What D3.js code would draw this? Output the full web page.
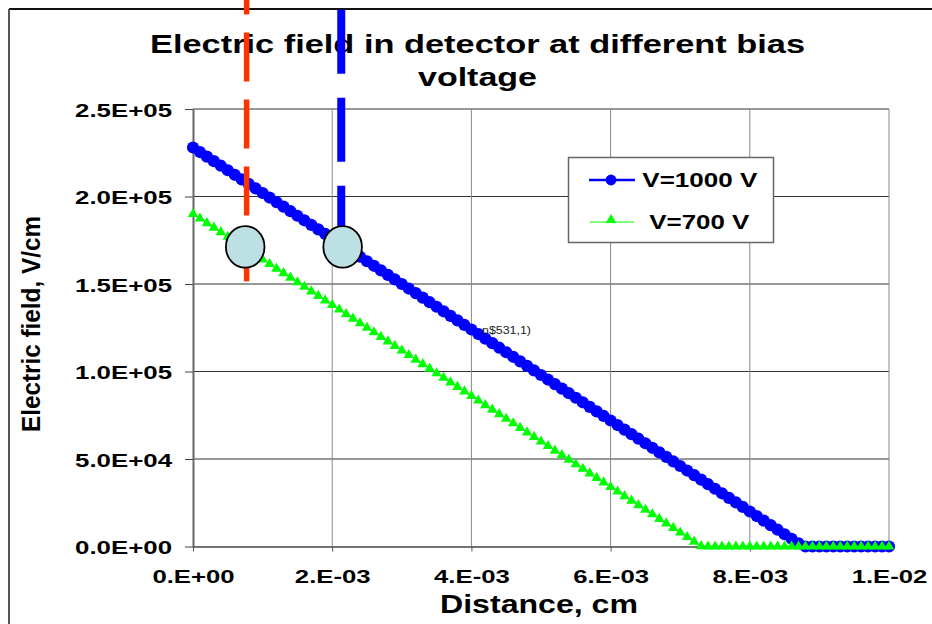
<!DOCTYPE html>
<html>
<head>
<meta charset="utf-8">
<script src="https://cdn.jsdelivr.net/npm/d3@7"></script>
<style>
body{margin:0;background:#fff;}
svg{display:block;font-family:"Liberation Sans",Arial,sans-serif;}
</style>
</head>
<body>
<script>
//distance into the detector, cm
var distance = [
    0.0000,0.0001,0.0002,0.0003,0.0004,0.0005,0.0006,0.0007,0.0008,0.0009,
    0.0010,0.0011,0.0012,0.0013,0.0014,0.0015,0.0016,0.0017,0.0018,0.0019,
    0.0020,0.0021,0.0022,0.0023,0.0024,0.0025,0.0026,0.0027,0.0028,0.0029,
    0.0030,0.0031,0.0032,0.0033,0.0034,0.0035,0.0036,0.0037,0.0038,0.0039,
    0.0040,0.0041,0.0042,0.0043,0.0044,0.0045,0.0046,0.0047,0.0048,0.0049,
    0.0050,0.0051,0.0052,0.0053,0.0054,0.0055,0.0056,0.0057,0.0058,0.0059,
    0.0060,0.0061,0.0062,0.0063,0.0064,0.0065,0.0066,0.0067,0.0068,0.0069,
    0.0070,0.0071,0.0072,0.0073,0.0074,0.0075,0.0076,0.0077,0.0078,0.0079,
    0.0080,0.0081,0.0082,0.0083,0.0084,0.0085,0.0086,0.0087,0.0088,0.0089,
    0.0090,0.0091,0.0092,0.0093,0.0094,0.0095,0.0096,0.0097,0.0098,0.0099,
    0.0100];

//electric field, V/cm, at 1000 V bias
var fieldV1000 = [
    228000,225400,222800,220200,217600,215000,212400,209800,207200,204600,
    202000,199400,196800,194200,191600,189000,186400,183800,181200,178600,
    176000,173400,170800,168200,165600,163000,160400,157800,155200,152600,
    150000,147400,144800,142200,139600,137000,134400,131800,129200,126600,
    124000,121400,118800,116200,113600,111000,108400,105800,103200,100600,
    98000,95400,92800,90200,87600,85000,82400,79800,77200,74600,
    72000,69400,66800,64200,61600,59000,56400,53800,51200,48600,
    46000,43400,40800,38200,35600,33000,30400,27800,25200,22600,
    20000,17400,14800,12200,9600,7000,4400,1800,0,0,
    0,0,0,0,0,0,0,0,0,0,
    0];

//electric field, V/cm, at 700 V bias
var fieldV700 = [
    190000,187400,184800,182200,179600,177000,174400,171800,169200,166600,
    164000,161400,158800,156200,153600,151000,148400,145800,143200,140600,
    138000,135400,132800,130200,127600,125000,122400,119800,117200,114600,
    112000,109400,106800,104200,101600,99000,96400,93800,91200,88600,
    86000,83400,80800,78200,75600,73000,70400,67800,65200,62600,
    60000,57400,54800,52200,49600,47000,44400,41800,39200,36600,
    34000,31400,28800,26200,23600,21000,18400,15800,13200,10600,
    8000,5400,2800,200,0,0,0,0,0,0,
    0,0,0,0,0,0,0,0,0,0,
    0,0,0,0,0,0,0,0,0,0,
    0];

var seriesNames = ["V=1000 V", "V=700 V"];

var yTicks = [0, 50000, 100000, 150000, 200000, 250000];
var yTickLabels = ["0.0E+00","5.0E+04","1.0E+05","1.5E+05","2.0E+05","2.5E+05"];
var xTicks = [0, 0.002, 0.004, 0.006, 0.008, 0.01];
var xTickLabels = ["0.E+00","2.E-03","4.E-03","6.E-03","8.E-03","1.E-02"];

//hand-drawn marks: dashed lines and the two circles
var dashX = [0.00077, 0.00213];
var dashTop = [332000, 306700];
var dashBottom = [151500, 175000];
var circleX = [0.00075, 0.00215];
var circleY = 171200;

window.onload = setChart;

function setChart(){

    var width = 932,
        height = 624;

    var svg = d3.select("body")
        .append("svg")
        .attr("width", width)
        .attr("height", height);

    var x = d3.scaleLinear().domain([0, 0.01]).range([193, 889]);
    var y = d3.scaleLinear().domain([0, 250000]).range([546.5, 109]);

    //stretch text like the original rendering
    function widen(sel, k){
        sel.each(function(){
            var w = this.getComputedTextLength();
            d3.select(this).attr("textLength", w * k).attr("lengthAdjust", "spacingAndGlyphs");
        });
    }

    //outer chart frame
    svg.append("line").attr("x1", 9).attr("x2", width).attr("y1", 9).attr("y2", 9)
        .attr("stroke", "#111").attr("stroke-width", 2);
    svg.append("line").attr("x1", 9).attr("x2", 9).attr("y1", 9).attr("y2", height)
        .attr("stroke", "#555").attr("stroke-width", 2);

    //gridlines
    svg.append("g").selectAll("line")
        .data(yTicks.slice(1))
        .join("line")
        .attr("x1", x(0)).attr("x2", x(0.01))
        .attr("y1", function(d){ return y(d); })
        .attr("y2", function(d){ return y(d); })
        .attr("stroke", "#333").attr("stroke-width", 1);

    svg.append("g").selectAll("line")
        .data(xTicks.slice(1))
        .join("line")
        .attr("x1", function(d){ return x(d); })
        .attr("x2", function(d){ return x(d); })
        .attr("y1", y(250000)).attr("y2", y(0))
        .attr("stroke", "#888").attr("stroke-width", 1);

    //y axis
    var yAxis = svg.append("g")
        .attr("transform", "translate(" + x(0) + ",0)")
        .call(d3.axisLeft(y)
            .tickValues(yTicks)
            .tickFormat(function(d, i){ return yTickLabels[i]; })
            .tickSize(8)
            .tickSizeOuter(0)
            .tickPadding(13));
    yAxis.select(".domain").attr("stroke", "#666").attr("stroke-width", 2);
    yAxis.selectAll(".tick line").attr("stroke", "#444");
    yAxis.selectAll("text")
        .attr("dy", "0.42em")
        .attr("fill", "#000")
        .style("font-size", "17.7px")
        .style("font-weight", "bold")
        .style("font-family", "'Liberation Sans', Arial, sans-serif")
        .call(widen, 1.46);

    //x axis
    var xAxis = svg.append("g")
        .attr("transform", "translate(0," + y(0) + ")")
        .call(d3.axisBottom(x)
            .tickValues(xTicks)
            .tickFormat(function(d, i){ return xTickLabels[i]; })
            .tickSize(5)
            .tickSizeOuter(0));
    xAxis.select(".domain").attr("stroke", "#444").attr("stroke-width", 1.3);
    xAxis.selectAll(".tick line").attr("stroke", "#555");
    xAxis.selectAll("text")
        .attr("y", 23.4)
        .attr("fill", "#000")
        .style("font-size", "18.5px")
        .style("font-weight", "bold")
        .style("font-family", "'Liberation Sans', Arial, sans-serif")
        .call(widen, 1.39);

    //series
    var line = d3.line()
        .x(function(d, i){ return x(distance[i]); })
        .y(function(d){ return y(d); });

    svg.append("path")
        .datum(fieldV1000)
        .attr("d", line)
        .attr("fill", "none")
        .attr("stroke", "#0000ff")
        .attr("stroke-width", 3);

    svg.append("g").selectAll("circle")
        .data(fieldV1000)
        .join("circle")
        .attr("cx", function(d, i){ return x(distance[i]); })
        .attr("cy", function(d){ return y(d); })
        .attr("r", 6.1)
        .attr("fill", "#0000ff");

    var tri = d3.symbol().type(d3.symbolTriangle).size(48);

    svg.append("path")
        .datum(fieldV700)
        .attr("d", line)
        .attr("fill", "none")
        .attr("stroke", "#00ff00")
        .attr("stroke-width", 1);

    svg.append("g").selectAll("path")
        .data(fieldV700)
        .join("path")
        .attr("d", tri)
        .attr("transform", function(d, i){
            return "translate(" + x(distance[i]) + "," + y(d) + ")";
        })
        .attr("fill", "#00ff00");

    //legend
    var legend = svg.append("g");
    legend.append("rect")
        .attr("x", 568.5).attr("y", 157.5)
        .attr("width", 205).attr("height", 85)
        .attr("fill", "#fff").attr("stroke", "#666").attr("stroke-width", 1.5);

    legend.append("line").attr("x1", 589).attr("x2", 635).attr("y1", 180).attr("y2", 180)
        .attr("stroke", "#0000ff").attr("stroke-width", 2.5);
    legend.append("circle").attr("cx", 611).attr("cy", 180).attr("r", 5.4).attr("fill", "#0000ff");
    legend.append("line").attr("x1", 590).attr("x2", 634).attr("y1", 222).attr("y2", 222)
        .attr("stroke", "#00ff00").attr("stroke-width", 1);
    legend.append("path").attr("d", tri).attr("transform", "translate(611,220)").attr("fill", "#00ff00");

    legend.append("text").attr("x", 642.3).attr("y", 187.3)
        .style("font-size", "19.5px").style("font-weight", "bold")
        .attr("textLength", 115).attr("lengthAdjust", "spacingAndGlyphs")
        .text(seriesNames[0]);
    legend.append("text").attr("x", 649.3).attr("y", 228.7)
        .style("font-size", "19.5px").style("font-weight", "bold")
        .attr("textLength", 100).attr("lengthAdjust", "spacingAndGlyphs")
        .text(seriesNames[1]);

    //titles
    svg.append("text").attr("x", 477.5).attr("y", 53)
        .attr("text-anchor", "middle")
        .style("font-size", "26.5px").style("font-weight", "bold")
        .attr("textLength", 655).attr("lengthAdjust", "spacingAndGlyphs")
        .text("Electric field in detector at different bias");
    svg.append("text").attr("x", 477.5).attr("y", 85.7)
        .attr("text-anchor", "middle")
        .style("font-size", "26.5px").style("font-weight", "bold")
        .attr("textLength", 119).attr("lengthAdjust", "spacingAndGlyphs")
        .text("voltage");

    svg.append("text").attr("x", 539).attr("y", 613.3)
        .attr("text-anchor", "middle")
        .style("font-size", "25.5px").style("font-weight", "bold")
        .attr("textLength", 198).attr("lengthAdjust", "spacingAndGlyphs")
        .text("Distance, cm");

    svg.append("text")
        .attr("transform", "translate(40,324) rotate(-90)")
        .attr("text-anchor", "middle")
        .style("font-size", "25.5px").style("font-weight", "bold")
        .attr("textLength", 216).attr("lengthAdjust", "spacingAndGlyphs")
        .text("Electric field, V/cm");

    //stray label left over in the original
    svg.append("text").attr("x", 482).attr("y", 334)
        .style("font-size", "10px").attr("fill", "#222")
        .attr("textLength", 49).attr("lengthAdjust", "spacingAndGlyphs")
        .text("n$531,1)");

    //dashed markers
    var dashColor = ["#ff3300", "#0000ff"];
    var dashWidth = [5.5, 8];
    var dashArray = ["49,18", "64,24"];
    svg.append("g").selectAll("line")
        .data(dashX)
        .join("line")
        .attr("x1", function(d){ return x(d); })
        .attr("x2", function(d){ return x(d); })
        .attr("y1", function(d, i){ return y(dashTop[i]); })
        .attr("y2", function(d, i){ return y(dashBottom[i]); })
        .attr("stroke", function(d, i){ return dashColor[i]; })
        .attr("stroke-width", function(d, i){ return dashWidth[i]; })
        .attr("stroke-dasharray", function(d, i){ return dashArray[i]; });

    svg.append("g").selectAll("ellipse")
        .data(circleX)
        .join("ellipse")
        .attr("cx", function(d){ return x(d); })
        .attr("cy", y(circleY))
        .attr("rx", 19.3)
        .attr("ry", 20.8)
        .attr("fill", "#bde0e2")
        .attr("stroke", "#000")
        .attr("stroke-width", 1.8);
}
</script>
</body>
</html>
